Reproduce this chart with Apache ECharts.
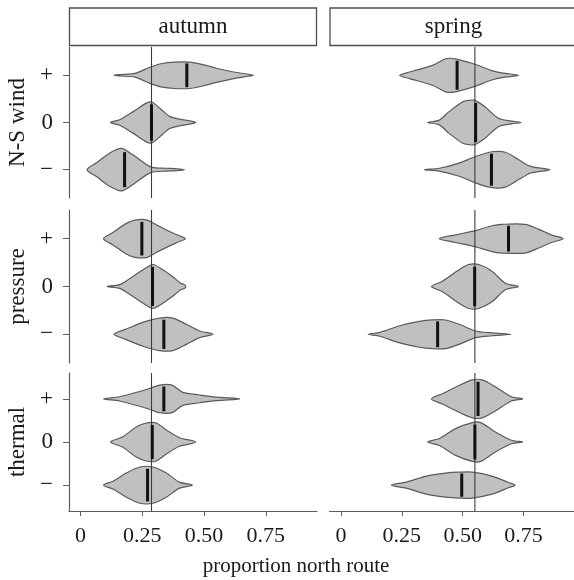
<!DOCTYPE html>
<html>
<head>
<meta charset="utf-8">
<script src="https://cdn.jsdelivr.net/npm/echarts@6/dist/echarts.min.js"></script>
<style>
  html, body { margin: 0; padding: 0; background: #fff; }
  #chart { width: 574px; height: 580px; }
</style>
</head>
<body>
<div id="chart"></div>
<script>
const seasons = ['autumn', 'spring']
const factors = ['N-S wind', 'pressure', 'thermal']
const levels = ['+', '0', '−']
const xTicks = [0, 0.25, 0.5, 0.75]
const xTickLabels = ['0', '0.25', '0.50', '0.75']
const refLines = [0.287, 0.55]

// medians, one row per factor, order + 0 −
const autumnMedians = [[0.43, 0.287, 0.178], [0.248, 0.291, 0.337], [0.337, 0.29, 0.271]]
const springMedians = [[0.477, 0.553, 0.618], [0.688, 0.549, 0.397], [0.563, 0.55, 0.496]]

// violin outlines: [proportion, half width in category units]
const autumnWind = [
  [[0.135, 0], [0.16, 0.015], [0.22, 0.04], [0.28, 0.17], [0.33, 0.25], [0.38, 0.28], [0.44, 0.28], [0.5, 0.22], [0.55, 0.15], [0.62, 0.07], [0.68, 0.02], [0.70, 0]],
  [[0.121, 0], [0.158, 0.06], [0.21, 0.22], [0.266, 0.41], [0.29, 0.43], [0.33, 0.26], [0.36, 0.13], [0.41, 0.06], [0.445, 0.03], [0.466, 0]],
  [[0.026, 0], [0.063, 0.14], [0.117, 0.35], [0.165, 0.45], [0.21, 0.32], [0.266, 0.11], [0.29, 0.05], [0.34, 0.03], [0.39, 0.02], [0.42, 0]]
]
const autumnPressure = [
  [[0.093, 0], [0.131, 0.13], [0.185, 0.32], [0.22, 0.39], [0.27, 0.39], [0.306, 0.29], [0.36, 0.15], [0.40, 0.06], [0.424, 0]],
  [[0.107, 0], [0.158, 0.04], [0.212, 0.21], [0.266, 0.39], [0.293, 0.46], [0.333, 0.35], [0.374, 0.2], [0.405, 0.07], [0.42, 0.04], [0.426, 0]],
  [[0.135, 0], [0.185, 0.11], [0.252, 0.25], [0.32, 0.34], [0.373, 0.34], [0.428, 0.21], [0.482, 0.07], [0.536, 0]]
]
const autumnThermal = [
  [[0.093, 0], [0.158, 0.05], [0.212, 0.13], [0.279, 0.24], [0.32, 0.32], [0.37, 0.32], [0.414, 0.15], [0.482, 0.09], [0.55, 0.04], [0.644, 0]],
  [[0.121, 0], [0.171, 0.12], [0.225, 0.35], [0.266, 0.44], [0.306, 0.44], [0.347, 0.28], [0.40, 0.1], [0.466, 0]],
  [[0.093, 0], [0.131, 0.09], [0.185, 0.28], [0.24, 0.42], [0.293, 0.42], [0.347, 0.28], [0.40, 0.07], [0.452, 0]]
]
const springWind = [
  [[0.241, 0], [0.282, 0.07], [0.376, 0.21], [0.43, 0.35], [0.47, 0.35], [0.54, 0.25], [0.62, 0.1], [0.66, 0.05], [0.73, 0]],
  [[0.356, 0], [0.404, 0.05], [0.444, 0.23], [0.5, 0.44], [0.525, 0.47], [0.55, 0.47], [0.59, 0.34], [0.647, 0.09], [0.70, 0.03], [0.74, 0]],
  [[0.343, 0], [0.404, 0.03], [0.485, 0.14], [0.553, 0.28], [0.62, 0.38], [0.675, 0.37], [0.73, 0.21], [0.78, 0.07], [0.858, 0]]
]
const springPressure = [
  [[0.404, 0], [0.471, 0.08], [0.553, 0.17], [0.62, 0.27], [0.66, 0.3], [0.756, 0.3], [0.81, 0.2], [0.864, 0.08], [0.912, 0]],
  [[0.372, 0], [0.417, 0.11], [0.485, 0.35], [0.525, 0.46], [0.566, 0.46], [0.62, 0.32], [0.675, 0.07], [0.729, 0]],
  [[0.112, 0], [0.16, 0.04], [0.241, 0.18], [0.322, 0.27], [0.376, 0.3], [0.43, 0.3], [0.485, 0.21], [0.553, 0.07], [0.62, 0.03], [0.698, 0]]
]
const springThermal = [
  [[0.372, 0], [0.417, 0.12], [0.485, 0.31], [0.54, 0.44], [0.58, 0.44], [0.634, 0.28], [0.70, 0.05], [0.746, 0]],
  [[0.356, 0], [0.404, 0.08], [0.471, 0.31], [0.54, 0.45], [0.574, 0.45], [0.634, 0.23], [0.70, 0.04], [0.746, 0]],
  [[0.207, 0], [0.268, 0.07], [0.35, 0.21], [0.43, 0.28], [0.485, 0.3], [0.54, 0.3], [0.62, 0.21], [0.688, 0.06], [0.715, 0]]
]

const shapesBySeason = [
  [autumnWind, autumnPressure, autumnThermal],
  [springWind, springPressure, springThermal]
]
const mediansBySeason = [autumnMedians, springMedians]

const font = 'Liberation Serif'
const ink = '#1a1a1a'
const axisGrey = '#5e5e5e'
const colLeft = [69, 329.5]
const rowTop = [47, 210, 373]
const rowHeight = [151, 153, 138]
const panelWidth = 248

const chart = echarts.init(document.getElementById('chart'))

function widthAt (shape, x) {
  for (let k = 1; k < shape.length; k++) {
    if (x <= shape[k][0]) {
      const [x0, w0] = shape[k - 1]
      const [x1, w1] = shape[k]
      return w0 + (w1 - w0) * (x - x0) / (x1 - x0)
    }
  }
  return 0
}

const grids = []
const xAxes = []
const yAxes = []
const series = []

factors.forEach((f, r) => {
  seasons.forEach((s, c) => {
    const g = grids.length
    const shapes = shapesBySeason[c][r]
    const meds = mediansBySeason[c][r]
    const data = levels.map((l, i) => [meds[i], 3 - i])

    grids.push({ left: colLeft[c], top: rowTop[r], width: panelWidth, height: rowHeight[r] })

    xAxes.push({
      gridIndex: g,
      type: 'value',
      min: -0.047,
      max: 0.957,
      show: r === 2,
      axisLine: { onZero: false, lineStyle: { color: axisGrey, width: 1.2 } },
      axisTick: { customValues: xTicks, length: 5, lineStyle: { color: axisGrey } },
      axisLabel: {
        customValues: xTicks,
        margin: 14,
        fontFamily: font,
        fontSize: 22,
        color: ink,
        formatter: v => xTickLabels[xTicks.findIndex(t => Math.abs(t - v) < 1e-9)]
      },
      splitLine: { show: false }
    })

    yAxes.push({
      gridIndex: g,
      type: 'value',
      min: 0.4,
      max: 3.6,
      show: c === 0,
      axisLine: { show: true, onZero: false, lineStyle: { color: axisGrey, width: 1.2 } },
      axisTick: { show: true, customValues: [1, 2, 3], length: 6, lineStyle: { color: axisGrey } },
      axisLabel: {
        customValues: [1, 2, 3],
        margin: 16,
        fontFamily: font,
        fontSize: 23,
        color: ink,
        formatter: v => levels[3 - Math.round(v)]
      },
      splitLine: { show: false }
    })

    series.push({
      type: 'custom',
      xAxisIndex: g,
      yAxisIndex: g,
      silent: true,
      data: data,
      renderItem: (params, api) => {
        const shape = shapes[params.dataIndex]
        const yc = api.value(1)
        const top = shape.map(p => api.coord([p[0], yc + p[1]]))
        const bottom = shape.slice(1, -1).reverse().map(p => api.coord([p[0], yc - p[1]]))
        return {
          type: 'polygon',
          shape: { points: top.concat(bottom), smooth: 0.3 },
          style: { fill: '#c0c0c0', stroke: '#5a5a5a', lineWidth: 1.2 }
        }
      }
    })

    series.push({
      type: 'custom',
      xAxisIndex: g,
      yAxisIndex: g,
      silent: true,
      data: [[refLines[c], 2]],
      renderItem: (params, api) => {
        const p0 = api.coord([api.value(0), 0.4])
        const p1 = api.coord([api.value(0), 3.6])
        return {
          type: 'line',
          shape: { x1: p0[0], y1: p0[1], x2: p1[0], y2: p1[1] },
          style: { stroke: '#3c3c3c', lineWidth: 1.1 }
        }
      }
    })

    series.push({
      type: 'custom',
      xAxisIndex: g,
      yAxisIndex: g,
      silent: true,
      data: data,
      renderItem: (params, api) => {
        const x = api.value(0)
        const yc = api.value(1)
        const w = widthAt(shapes[params.dataIndex], x) * 0.9
        const p0 = api.coord([x, yc + w])
        const p1 = api.coord([x, yc - w])
        return {
          type: 'line',
          shape: { x1: p0[0], y1: p0[1], x2: p1[0], y2: p1[1] },
          style: { stroke: '#111', lineWidth: 3 }
        }
      }
    })
  })
})

const graphics = []
seasons.forEach((s, c) => {
  graphics.push({
    type: 'rect',
    shape: { x: colLeft[c] + 0.5, y: 8, width: panelWidth - 1, height: 37.5 },
    style: { fill: '#fff', stroke: '#4d4d4d', lineWidth: 1.3 }
  })
  graphics.push({
    type: 'text',
    x: colLeft[c] + panelWidth / 2,
    y: 27,
    style: { text: s, font: '23px "Liberation Serif"', fill: ink, textAlign: 'center', textVerticalAlign: 'middle' }
  })
})
factors.forEach((f, r) => {
  graphics.push({
    type: 'text',
    x: 18,
    y: rowTop[r] + rowHeight[r] / 2,
    rotation: Math.PI / 2,
    style: { text: f, x: 0, y: 0, font: '23px "Liberation Serif"', fill: ink, textAlign: 'center', textVerticalAlign: 'middle' }
  })
})
graphics.push({
  type: 'text',
  x: 296,
  y: 566,
  style: { text: 'proportion north route', font: '21px "Liberation Serif"', fill: ink, textAlign: 'center', textVerticalAlign: 'middle' }
})

chart.setOption({
  animation: false,
  textStyle: { fontFamily: font },
  grid: grids,
  xAxis: xAxes,
  yAxis: yAxes,
  series: series,
  graphic: graphics
})
</script>
</body>
</html>
